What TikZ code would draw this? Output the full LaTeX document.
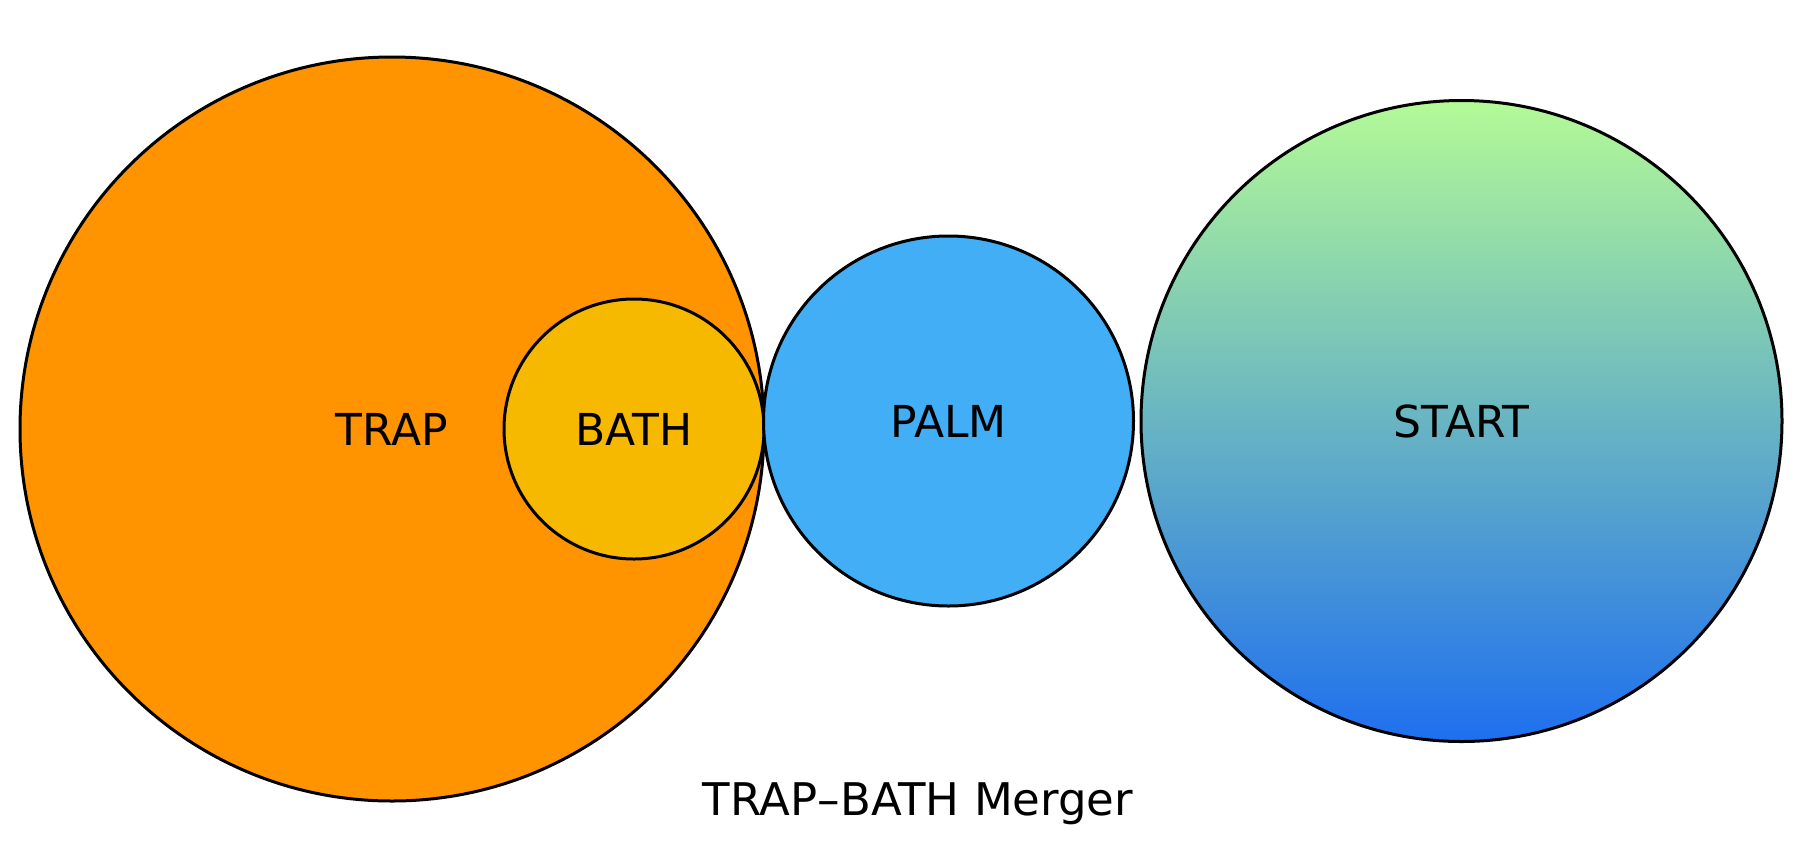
\documentclass[tikz,border=0pt]{standalone}
\usepackage{fontspec}
\setmainfont{DejaVu Sans}
\definecolor{trapc}{HTML}{FF9300}
\definecolor{bathc}{HTML}{F6B900}
\definecolor{palmc}{HTML}{42AEF5}
\definecolor{starttop}{HTML}{B3FA96}
\definecolor{startbot}{HTML}{1E6FEF}
\begin{document}
\begin{tikzpicture}[x=0.5pt,y=-0.5pt,
  blob/.style={circle, draw=black, line width=1.5pt, inner sep=0pt, text=black,
    font=\fontsize{22}{26}\selectfont},
  caption/.style={font=\fontsize{22.5}{27}\selectfont, inner sep=0pt, anchor=base}]
\useasboundingbox (0,0) rectangle (1800,842);
\node[blob, fill=trapc, minimum size=372pt] (trap) at (392,429) {TRAP};
\node[blob, fill=bathc, minimum size=130pt] (bath) at (634,429) {BATH};
\node[blob, fill=palmc, minimum size=185pt] (palm) at (948.5,421) {PALM};
\node[blob, top color=starttop, bottom color=startbot, minimum size=320.5pt] (start) at (1461.5,421) {START};
\node[caption] (title) at (918,815) {TRAP–BATH Merger};
\end{tikzpicture}
\end{document}
